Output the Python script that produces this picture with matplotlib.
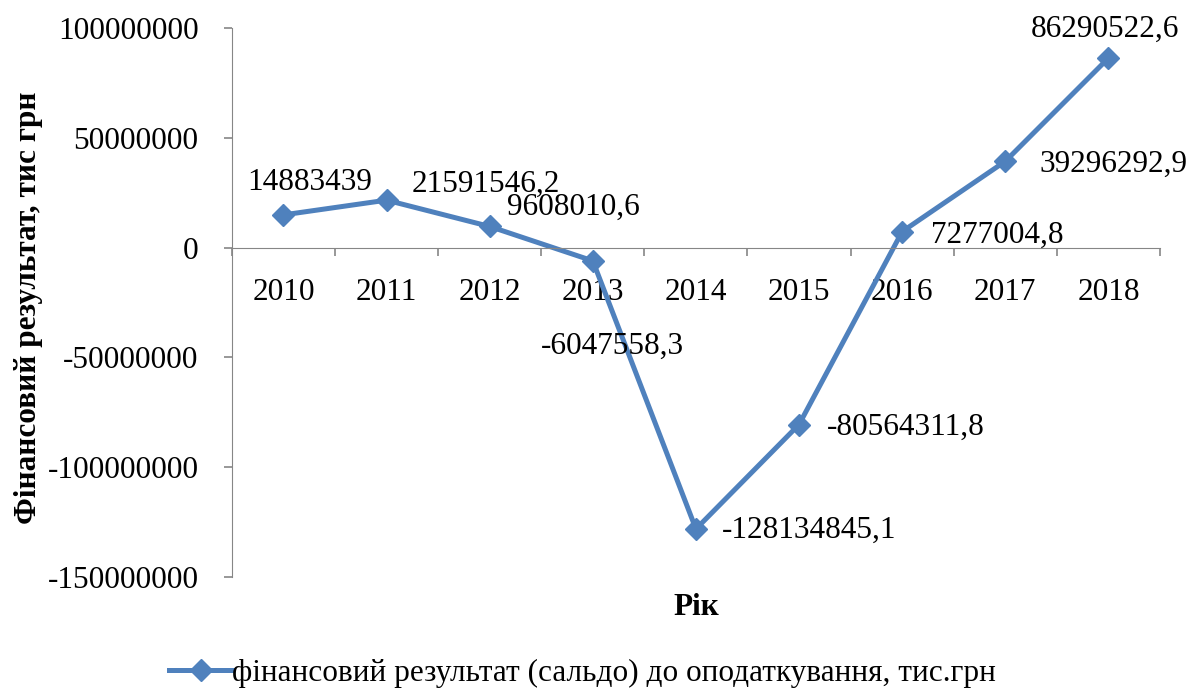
import numpy as np
import matplotlib.pyplot as plt
from matplotlib.ticker import MultipleLocator, FixedLocator

plt.rcParams['font.family'] = ['Liberation Serif', 'DejaVu Serif']
plt.rcParams['axes.unicode_minus'] = False

# data
years = ['2010', '2011', '2012', '2013', '2014', '2015', '2016', '2017', '2018']
values = [14883439, 21591546.2, 9608010.6, -6047558.3, -128134845.1,
          -80564311.8, 7277004.8, 39296292.9, 86290522.6]
value_labels = ['14883439', '21591546,2', '9608010,6', '-6047558,3', '-128134845,1',
                '-80564311,8', '7277004,8', '39296292,9', '86290522,6']
# label offsets (pixels) from each point
label_offsets = [(26, 32), (99, 16), (84, 19), (20, -85), (113, -1),
                 (107, -3), (95, -4), (108, -3), (-3, 29)]

fs = 22.5

fig = plt.figure(figsize=(11.89, 6.94), dpi=100)
ax = fig.add_axes([0.195, 0.1686, 0.7806, 0.7911])

x = np.arange(len(years))
color = '#4F81BD'
ax.plot(x, values, color=color, linewidth=3.6, marker='D', markersize=11,
        label='фінансовий результат (сальдо) до оподаткування, тис.грн')

for xi, v, lab, off in zip(x, values, value_labels, label_offsets):
    ax.annotate(lab, (xi, v), xytext=off, textcoords='offset pixels',
                ha='center', va='center', fontsize=fs)

ax.set_xlim(-0.5, len(years) - 0.5)
ax.set_ylim(-150000000, 100000000)
ax.yaxis.set_major_locator(MultipleLocator(50000000))
ax.yaxis.set_major_formatter(plt.FuncFormatter(lambda v, p: '%d' % v))

# category axis crossing at zero
ax.spines['bottom'].set_position(('data', 0))
ax.spines['top'].set_visible(False)
ax.spines['right'].set_visible(False)
ax.spines['bottom'].set_color('#868686')
ax.spines['left'].set_color('#868686')
ax.set_xticks(x)
ax.set_xticklabels(years)
ax.xaxis.set_minor_locator(FixedLocator(np.arange(-0.5, len(years), 1)))
ax.tick_params(axis='x', which='major', length=0, pad=22, labelsize=fs)
ax.tick_params(axis='x', which='minor', length=6, width=1.2, color='#868686', direction='out')
ax.tick_params(axis='y', which='major', length=6, width=1.2, color='#868686', labelsize=fs, pad=18)

ax.set_ylabel('Фінансовий результат, тис грн', fontsize=fs, fontweight='bold')
ax.yaxis.set_label_coords(-0.204, 0.49)
ax.set_xlabel('Рік', fontsize=fs, fontweight='bold')
ax.xaxis.set_label_coords(0.5, -0.03)

fig.legend(loc='lower center', bbox_to_anchor=(0.49, -0.032), frameon=False,
           fontsize=fs, handlelength=2.0, handletextpad=0.0)

fig.savefig('out.png', dpi=100)
